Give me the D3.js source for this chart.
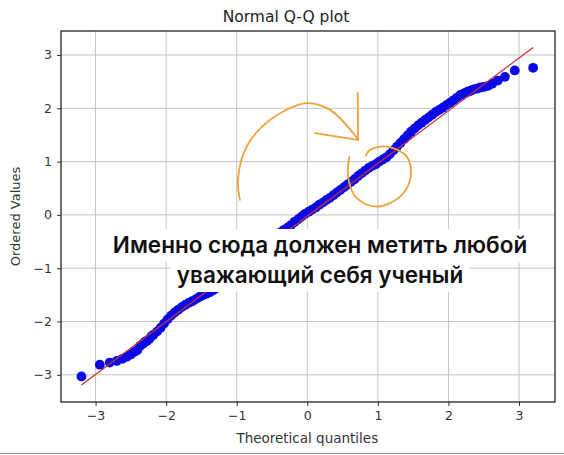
<!DOCTYPE html>
<html>
<head>
<meta charset="utf-8">
<script src="https://cdn.jsdelivr.net/npm/d3@7"></script>
<style>
  body { margin: 0; background: #fff; }
  svg { display: block; }
  .tick text { font-family: "DejaVu Sans", sans-serif; font-size: 12.5px; fill: #333; }
</style>
</head>
<body>
<svg class="qq" width="564" height="455"></svg>
<script>

// theoretical quantiles (x) and ordered sample values (y)
var theoretical = [
  -3.20, -2.94, -2.80, -2.70, -2.62, -2.56, -2.50, -2.45, -2.41, -2.37, -2.33, -2.30, -2.27, -2.24, -2.21,
  -2.18, -2.13, -2.08, -2.03, -1.98, -1.93, -1.88, -1.83, -1.78, -1.73, -1.68, -1.63, -1.58, -1.53, -1.48,
  -1.43, -1.38, -1.33, -1.28, -1.23, -1.18, -1.13, -1.08, -1.03, -0.98, -0.93, -0.88, -0.83, -0.78, -0.73,
  -0.68, -0.63, -0.58, -0.53, -0.48, -0.43, -0.38, -0.33, -0.28, -0.23, -0.18, -0.13, -0.08, -0.03, 0.02,
  0.07, 0.12, 0.17, 0.22, 0.27, 0.32, 0.37, 0.42, 0.47, 0.52, 0.57, 0.62, 0.67, 0.72, 0.77,
  0.82, 0.87, 0.92, 0.97, 1.02, 1.07, 1.12, 1.17, 1.22, 1.27, 1.32, 1.37, 1.42, 1.47, 1.52,
  1.57, 1.62, 1.67, 1.72, 1.77, 1.82, 1.87, 1.92, 1.97, 2.02, 2.07, 2.12, 2.17,
  2.21, 2.24, 2.27, 2.30, 2.33, 2.37, 2.41, 2.45, 2.50, 2.56, 2.62, 2.70, 2.80, 2.94, 3.20
];
var ordered = [
  -3.03, -2.81, -2.77, -2.74, -2.70, -2.66, -2.62, -2.57, -2.54, -2.46, -2.42, -2.38, -2.36, -2.33, -2.28,
  -2.25, -2.19, -2.12, -2.04, -1.96, -1.89, -1.83, -1.78, -1.73, -1.69, -1.65, -1.62, -1.58, -1.54, -1.51,
  -1.48, -1.45, -1.41, -1.37, -1.32, -1.26, -1.20, -1.13, -1.06, -0.99, -0.94, -0.88, -0.83, -0.79, -0.75,
  -0.70, -0.63, -0.57, -0.51, -0.45, -0.39, -0.33, -0.28, -0.24, -0.19, -0.13, -0.08, -0.03, 0.02, 0.06,
  0.10, 0.14, 0.19, 0.23, 0.28, 0.32, 0.37, 0.42, 0.47, 0.52, 0.57, 0.62, 0.67, 0.73, 0.78,
  0.83, 0.88, 0.92, 0.95, 1.00, 1.04, 1.08, 1.14, 1.21, 1.28, 1.35, 1.42, 1.49, 1.56, 1.62,
  1.68, 1.73, 1.78, 1.83, 1.88, 1.93, 1.97, 2.01, 2.06, 2.10, 2.15, 2.20, 2.25,
  2.27, 2.29, 2.31, 2.32, 2.34, 2.36, 2.37, 2.39, 2.40, 2.42, 2.46, 2.52, 2.59, 2.71, 2.76
];

// least squares fit line
var fitSlope = 0.989, fitIntercept = -0.025;

var tickValues = [-3, -2, -1, 0, 1, 2, 3];

var captionLines = ["Именно сюда должен метить любой", "уважающий себя ученый"];

// hand drawn marks (data units)
var arcPts = [[-0.955, 0.281], [-0.983, 0.657], [-0.86, 1.281], [-0.529, 1.782], [-0.009, 2.096],
              [0.322, 1.97], [0.652, 1.533], [0.719, 1.407]];
var arrowA = [[0.715, 2.295], [0.719, 1.407]];
var arrowB = [[0.109, 1.533], [0.719, 1.407]];
var loopPts = [[0.596, 1.083], [0.577, 0.719], [0.701, 0.313], [0.984, 0.156], [1.315, 0.343],
               [1.467, 0.719], [1.41, 1.094], [1.126, 1.281], [0.889, 1.22], [0.828, 1.107]];


var svg = d3.select("svg.qq"),
    margin = {top: 31, right: 9, bottom: 53, left: 61},
    width = +svg.attr("width") - margin.left - margin.right,
    height = +svg.attr("height") - margin.top - margin.bottom,
    g = svg.append("g").attr("transform", "translate(" + margin.left + "," + margin.top + ")");

var x = d3.scaleLinear().domain([-3.49, 3.51]).range([0, width]),
    y = d3.scaleLinear().domain([-3.51, 3.45]).range([height, 0]);

var points = theoretical.map(function(d, i) { return {tq: d, ov: ordered[i]}; });

//grid
g.append("g").attr("class", "grid")
  .selectAll("line.gx").data(tickValues).enter().append("line")
  .attr("x1", function(d) { return x(d); }).attr("x2", function(d) { return x(d); })
  .attr("y1", 0).attr("y2", height)
  .style("stroke", "#c4c4c4").style("stroke-width", 1);
g.select("g.grid")
  .selectAll("line.gy").data(tickValues).enter().append("line")
  .attr("y1", function(d) { return y(d); }).attr("y2", function(d) { return y(d); })
  .attr("x1", 0).attr("x2", width)
  .style("stroke", "#c4c4c4").style("stroke-width", 1);

//points
g.append("g")
  .selectAll("circle").data(points).enter().append("circle")
  .attr("cx", function(d) { return x(d.tq); })
  .attr("cy", function(d) { return y(d.ov); })
  .attr("r", 4.9)
  .style("fill", "#0a0ae6");

//fit line
var lineEnds = d3.extent(theoretical);
g.append("line")
  .attr("x1", x(lineEnds[0])).attr("y1", y(fitIntercept + fitSlope * lineEnds[0]))
  .attr("x2", x(lineEnds[1])).attr("y2", y(fitIntercept + fitSlope * lineEnds[1]))
  .style("stroke", "#c8303a")
  .style("stroke-width", 1.3);

//axes
var xAxis = g.append("g")
  .attr("transform", "translate(0," + height + ")")
  .call(d3.axisBottom(x).tickValues(tickValues).tickSize(4).tickPadding(5).tickFormat(d3.format("d")));
var yAxis = g.append("g")
  .call(d3.axisLeft(y).tickValues(tickValues).tickSize(4).tickPadding(5).tickFormat(d3.format("d")));
[xAxis, yAxis].forEach(function(a) {
  a.select(".domain").remove();
  a.selectAll(".tick line").style("stroke", "#333");
});

// frame
g.append("rect")
  .attr("width", width).attr("height", height)
  .style("fill", "none").style("stroke", "#111").style("stroke-width", 1.2);

svg.append("text")
  .attr("x", 286).attr("y", 22)
  .attr("text-anchor", "middle")
  .style("font", "15.5px 'DejaVu Sans', sans-serif").style("fill", "#222")
  .text("Normal Q-Q plot");

svg.append("text")
  .attr("x", margin.left + x(0)).attr("y", 443)
  .attr("text-anchor", "middle")
  .style("font", "13.5px 'DejaVu Sans', sans-serif").style("fill", "#333")
  .text("Theoretical quantiles");

svg.append("text")
  .attr("transform", "translate(20," + (margin.top + height / 2) + ") rotate(-90)")
  .attr("text-anchor", "middle")
  .style("font", "13px 'DejaVu Sans', sans-serif").style("fill", "#333")
  .text("Ordered Values");

//orange scribbles
var scribble = d3.line()
  .curve(d3.curveCatmullRom)
  .x(function(d) { return x(d[0]); })
  .y(function(d) { return y(d[1]); });

[arcPts, arrowA, arrowB, loopPts].forEach(function(p) {
  g.append("path")
    .attr("d", scribble(p))
    .style("fill", "none")
    .style("stroke", "#f2a23a")
    .style("stroke-width", 1.8)
    .style("stroke-linecap", "round");
});

//caption with white boxes
var capCenter = 320, capBase = [253, 283];
var cap = svg.append("g");
captionLines.forEach(function(t, i) {
  var txt = cap.append("text")
    .attr("x", capCenter).attr("y", capBase[i])
    .attr("text-anchor", "middle")
    .style("font", "600 22.5px Inter, 'Noto Sans', sans-serif")
    .style("fill", "#111")
    .text(t);
  var bb = txt.node().getBBox();
  cap.insert("rect", "text")
    .attr("x", bb.x - 6).attr("y", capBase[i] - 24)
    .attr("width", bb.width + 12).attr("height", 33)
    .attr("rx", 6)
    .style("fill", "#fff");
});

svg.append("line")
  .attr("x1", 0).attr("x2", 564).attr("y1", 453.5).attr("y2", 453.5)
  .style("stroke", "#999");

</script>
</body>
</html>
